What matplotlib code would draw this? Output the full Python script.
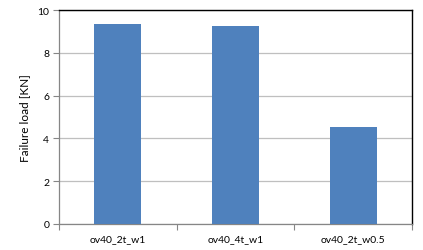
import matplotlib
matplotlib.use("Agg")
import matplotlib.pyplot as plt
import numpy as np

categories = ["ov40_2t_w1", "ov40_4t_w1", "ov40_2t_w0.5"]
failure_load = [9.35, 9.25, 4.52]

plt.rcParams['font.family'] = ['Lato', 'DejaVu Sans']

fig = plt.figure(figsize=(4.23, 2.51), dpi=100)
ax = fig.add_axes([0.1395, 0.1036, 0.8345, 0.8524])

x = np.arange(len(categories))
ax.bar(x, failure_load, width=0.4, color='#4f81bd', zorder=3)

ax.set_xlim(-0.5, len(categories) - 0.5)
ax.set_ylim(0, 10)
ax.set_yticks(range(0, 11, 2))
ax.set_xticks(x)
ax.set_xticklabels(categories)
ax.set_xticks(np.arange(-0.5, len(categories)), minor=True)

ax.yaxis.grid(True, color='#bfbfbf', linewidth=0.9, zorder=0)
ax.set_axisbelow(True)

for side in ['top', 'right']:
    ax.spines[side].set_color('black')
    ax.spines[side].set_linewidth(1.0)
for side in ['left', 'bottom']:
    ax.spines[side].set_color('#868686')
    ax.spines[side].set_linewidth(0.9)

ax.tick_params(axis='y', which='major', direction='out', length=4, width=0.8,
               color='#868686', labelsize=7.5, pad=3)
ax.tick_params(axis='x', which='major', length=0, labelsize=7.5, pad=7)
ax.tick_params(axis='x', which='minor', direction='out', length=4, width=0.8,
               color='#868686')

ax.set_ylabel("Failure load [KN]", fontsize=8.5, labelpad=5)

fig.savefig("out.png", dpi=100)
